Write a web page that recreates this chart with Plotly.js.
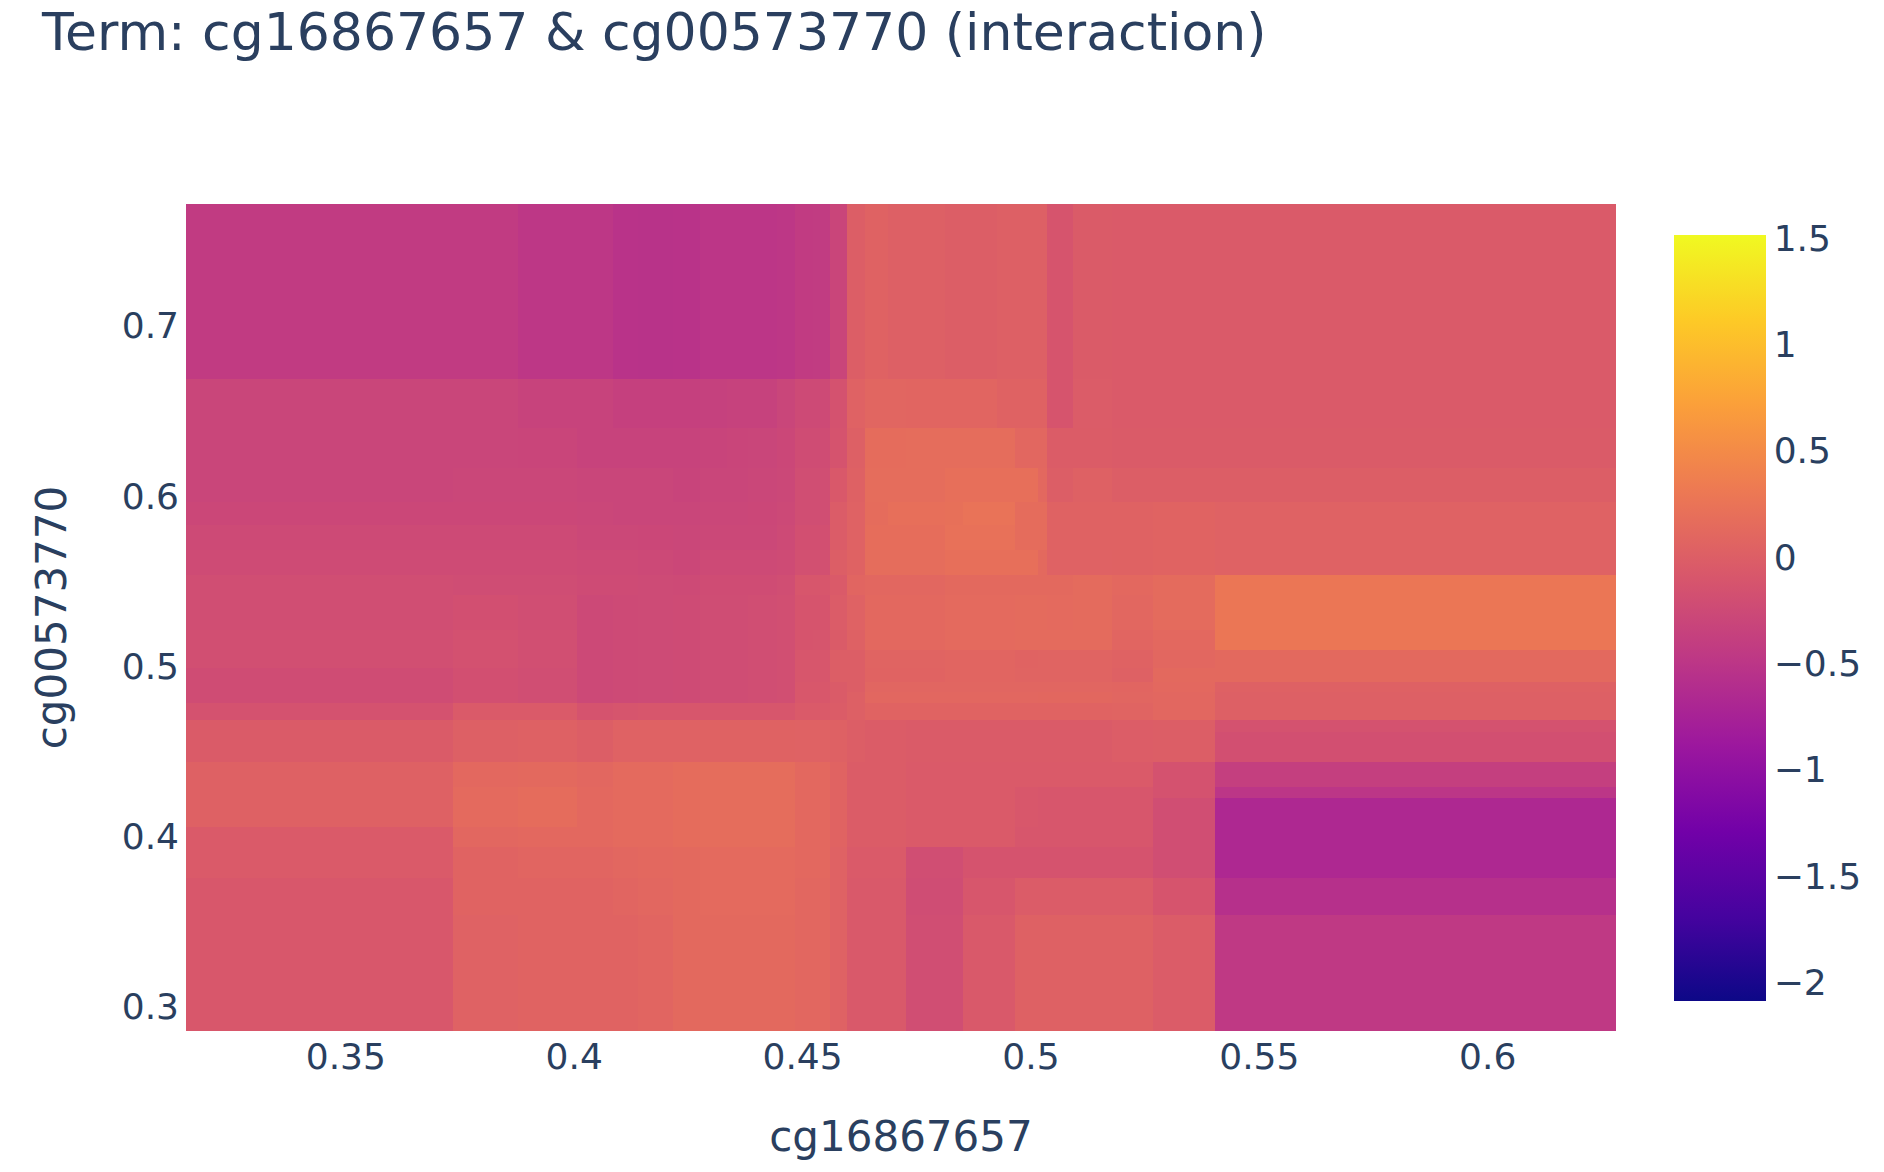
<!DOCTYPE html>
<html>
<head>
<meta charset="utf-8">
<script src="https://cdn.plot.ly/plotly-3.0.1.min.js"></script>
<style>html,body{margin:0;padding:0;background:#fff;}#chart{width:1884px;height:1172px;}</style>
</head>
<body>
<div id="chart"></div>
<script>
// Bin edges of cg16867657 (x) — left to right
const xEdges = [0.3150, 0.3734, 0.3876, 0.4006, 0.4085, 0.4139, 0.4216, 0.4275, 0.4334, 0.4381,
  0.4443, 0.4483, 0.4523, 0.4560, 0.4598, 0.4637, 0.4687, 0.4727, 0.4812, 0.4851,
  0.4925, 0.4965, 0.5016, 0.5035, 0.5092, 0.5177, 0.5267, 0.5403, 0.6281];

// Bin edges of cg00573770 (y) — listed top (high) to bottom (low)
const yEdgesTopDown = [0.7714, 0.6686, 0.6399, 0.6164, 0.5964, 0.5829, 0.5682, 0.5536, 0.5418,
  0.5213, 0.5095, 0.4989, 0.4907, 0.4849, 0.4784, 0.4684, 0.4614, 0.4437, 0.4291,
  0.4226, 0.4056, 0.3938, 0.3756, 0.3539, 0.2858];

// Interaction score per cell, rows listed top to bottom, columns left to right
const zTopDown = [
  [-0.43,-0.43,-0.48,-0.48,-0.53,-0.54,-0.53,-0.50,-0.50,-0.50,-0.48,-0.43,-0.42,-0.31, 0.00, 0.05, 0.02, 0.02, 0.00, 0.00, 0.02, 0.02, 0.02,-0.12,-0.04,-0.05,-0.05,-0.05],
  [-0.30,-0.30,-0.34,-0.34,-0.37,-0.37,-0.37,-0.36,-0.35,-0.35,-0.30,-0.25,-0.25,-0.15, 0.04, 0.09, 0.09, 0.08, 0.08, 0.08, 0.05, 0.05, 0.05,-0.12,-0.03,-0.05,-0.05,-0.05],
  [-0.30,-0.30,-0.31,-0.33,-0.33,-0.33,-0.34,-0.32,-0.31,-0.30,-0.28,-0.22,-0.22,-0.13, 0.02, 0.16, 0.16, 0.17, 0.17, 0.17, 0.17, 0.10, 0.10,-0.02,-0.02,-0.04,-0.04,-0.04],
  [-0.30,-0.29,-0.29,-0.30,-0.30,-0.30,-0.32,-0.30,-0.30,-0.29,-0.27,-0.20,-0.20,-0.07, 0.03, 0.17, 0.17, 0.17, 0.20, 0.20, 0.20, 0.20, 0.12, 0.00, 0.03, 0.00, 0.00, 0.00],
  [-0.28,-0.28,-0.28,-0.29,-0.30,-0.30,-0.30,-0.29,-0.29,-0.28,-0.26,-0.20,-0.20,-0.03, 0.04, 0.16, 0.20, 0.20, 0.21, 0.24, 0.24, 0.16, 0.16, 0.05, 0.05, 0.05, 0.06, 0.04],
  [-0.25,-0.25,-0.25,-0.27,-0.27,-0.28,-0.29,-0.27,-0.27,-0.27,-0.25,-0.18,-0.18,-0.03, 0.04, 0.18, 0.18, 0.18, 0.22, 0.22, 0.22, 0.16, 0.16, 0.05, 0.05, 0.05, 0.06, 0.04],
  [-0.23,-0.23,-0.23,-0.25,-0.25,-0.26,-0.28,-0.25,-0.25,-0.25,-0.23,-0.17,-0.17, 0.00, 0.05, 0.17, 0.17, 0.17, 0.20, 0.20, 0.20, 0.20, 0.13, 0.04, 0.04, 0.05, 0.06, 0.04],
  [-0.20,-0.21,-0.21,-0.23,-0.23,-0.24,-0.25,-0.22,-0.22,-0.22,-0.20,-0.10,-0.10,-0.05, 0.08, 0.10, 0.10, 0.10, 0.13, 0.13, 0.13, 0.13, 0.13, 0.13, 0.15, 0.12, 0.15, 0.28],
  [-0.20,-0.18,-0.20,-0.26,-0.25,-0.24,-0.23,-0.21,-0.21,-0.20,-0.19,-0.12,-0.12,-0.03, 0.04, 0.12, 0.12, 0.12, 0.14, 0.14, 0.14, 0.15, 0.15, 0.14, 0.15, 0.10, 0.15, 0.28],
  [-0.19,-0.16,-0.19,-0.26,-0.25,-0.24,-0.23,-0.21,-0.21,-0.20,-0.19,-0.12,-0.11,-0.04, 0.03, 0.12, 0.12, 0.12, 0.14, 0.14, 0.14, 0.15, 0.15, 0.15, 0.15, 0.08, 0.12, 0.28],
  [-0.19,-0.16,-0.19,-0.26,-0.25,-0.24,-0.23,-0.21,-0.21,-0.20,-0.19,-0.10,-0.10, 0.00, 0.00, 0.07, 0.07, 0.07, 0.08, 0.08, 0.08, 0.06, 0.07, 0.07, 0.07, 0.05, 0.10, 0.13],
  [-0.22,-0.18,-0.20,-0.26,-0.25,-0.24,-0.23,-0.21,-0.21,-0.20,-0.19,-0.10,-0.10, 0.00, 0.00, 0.06, 0.06, 0.06, 0.08, 0.08, 0.08, 0.07, 0.07, 0.07, 0.07, 0.03, 0.13, 0.13],
  [-0.22,-0.18,-0.20,-0.26,-0.25,-0.24,-0.23,-0.21,-0.21,-0.20,-0.19,-0.08,-0.08,-0.04, 0.00, 0.09, 0.09, 0.09, 0.09, 0.09, 0.09, 0.09, 0.09, 0.09, 0.09, 0.08, 0.12, 0.03],
  [-0.22,-0.18,-0.20,-0.26,-0.25,-0.24,-0.23,-0.21,-0.21,-0.20,-0.19,-0.08,-0.08,-0.04, 0.02, 0.10, 0.10, 0.10, 0.10, 0.10, 0.10, 0.10, 0.11, 0.11, 0.11, 0.09, 0.10, 0.02],
  [-0.15,-0.05,-0.05,-0.13,-0.11,-0.10,-0.10,-0.10,-0.10,-0.10,-0.10,-0.05,-0.05,-0.02, 0.02, 0.06, 0.06, 0.06, 0.06, 0.06, 0.06, 0.06, 0.06, 0.06, 0.06, 0.07, 0.10, 0.02],
  [-0.04, 0.02, 0.03, 0.00, 0.04, 0.04, 0.04, 0.05, 0.05, 0.05, 0.05, 0.04, 0.04, 0.03, 0.00,-0.02,-0.02,-0.04,-0.04,-0.04,-0.04,-0.04,-0.04,-0.04,-0.04,-0.01, 0.00,-0.15],
  [-0.04, 0.02, 0.03, 0.00, 0.04, 0.04, 0.04, 0.05, 0.05, 0.05, 0.05, 0.04, 0.04, 0.03, 0.00,-0.02,-0.02,-0.04,-0.04,-0.04,-0.04,-0.04,-0.04,-0.04,-0.04,-0.01, 0.00,-0.18],
  [ 0.03, 0.12, 0.13, 0.10, 0.14, 0.14, 0.16, 0.17, 0.17, 0.17, 0.17, 0.12, 0.12, 0.06,-0.02,-0.02,-0.02,-0.05,-0.05,-0.05,-0.05,-0.05,-0.05,-0.05,-0.05,-0.05,-0.15,-0.38],
  [ 0.03, 0.14, 0.16, 0.12, 0.14, 0.14, 0.16, 0.17, 0.17, 0.17, 0.17, 0.12, 0.12, 0.06,-0.02,-0.02,-0.02,-0.05,-0.05,-0.05,-0.05,-0.08,-0.10,-0.10,-0.10,-0.10,-0.15,-0.50],
  [ 0.03, 0.14, 0.16, 0.12, 0.14, 0.14, 0.16, 0.17, 0.17, 0.17, 0.17, 0.12, 0.12, 0.06,-0.02,-0.02,-0.02,-0.05,-0.05,-0.05,-0.05,-0.08,-0.10,-0.10,-0.10,-0.10,-0.20,-0.67],
  [-0.05, 0.10, 0.12, 0.12, 0.14, 0.14, 0.16, 0.17, 0.17, 0.17, 0.17, 0.12, 0.12, 0.06,-0.02,-0.02,-0.02,-0.05,-0.05,-0.05,-0.05,-0.10,-0.10,-0.10,-0.10,-0.10,-0.20,-0.67],
  [-0.05, 0.06, 0.08, 0.08, 0.10, 0.12, 0.13, 0.14, 0.14, 0.14, 0.14, 0.12, 0.12, 0.04,-0.05,-0.05,-0.05,-0.20,-0.20,-0.13,-0.13,-0.13,-0.13,-0.13,-0.13,-0.13,-0.20,-0.67],
  [-0.08, 0.06, 0.06, 0.06, 0.08, 0.10, 0.13, 0.14, 0.14, 0.14, 0.14, 0.10, 0.10, 0.04,-0.06,-0.06,-0.06,-0.21,-0.21,-0.10,-0.10,-0.03,-0.03,-0.03,-0.03,-0.03,-0.12,-0.57],
  [-0.08, 0.04, 0.06, 0.06, 0.06, 0.08, 0.13, 0.13, 0.13, 0.13, 0.13, 0.10, 0.10, 0.04,-0.06,-0.06,-0.06,-0.20,-0.20,-0.06,-0.06, 0.03, 0.03, 0.03, 0.03, 0.03,-0.03,-0.46]
];

const zMin = -2.085;
const zMax = 1.517;
const plasmaColors = ['#0d0887', '#46039f', '#7201a8', '#9c179e', '#bd3786',
  '#d8576b', '#ed7953', '#fb9f3a', '#fdca26', '#f0f921'];
const xTickVals = [0.35, 0.4, 0.45, 0.5, 0.55, 0.6];
const yTickVals = [0.3, 0.4, 0.5, 0.6, 0.7];
const cbTickVals = [-2, -1.5, -1, -0.5, 0, 0.5, 1, 1.5];

const titleText = 'Term: cg16867657 &amp; cg00573770 (interaction)';
const xTitle = 'cg16867657';
const yTitle = 'cg00573770';

const yEdges = yEdgesTopDown.slice().reverse();
const zValues = zTopDown.slice().reverse();
const plasmaScale = plasmaColors.map((c, i) => [i / (plasmaColors.length - 1), c]);

const FONT = 'DejaVu Sans, Verdana, sans-serif';
const INK = '#2a3f5f';

const trace = {
  type: 'heatmap',
  x: xEdges,
  y: yEdges,
  z: zValues,
  zmin: zMin,
  zmax: zMax,
  colorscale: plasmaScale,
  zsmooth: false,
  hoverinfo: 'skip',
  colorbar: {
    thickness: 92,
    thicknessmode: 'pixels',
    len: 766,
    lenmode: 'pixels',
    x: 1.0406,
    xanchor: 'left',
    xpad: 0,
    y: 0.5,
    yanchor: 'middle',
    ypad: 0,
    outlinewidth: 0,
    ticks: '',
    tickvals: cbTickVals,
    tickfont: {family: FONT, size: 36, color: INK}
  }
};

const layout = {
  width: 1884,
  height: 1172,
  paper_bgcolor: '#ffffff',
  plot_bgcolor: '#E5ECF6',
  font: {family: FONT, color: INK, size: 36},
  margin: {l: 186, r: 268, t: 204, b: 141, pad: 0},
  title: {
    text: titleText,
    font: {family: FONT, size: 52, color: INK},
    x: 42 / 1884,
    xanchor: 'left',
    xref: 'container',
    y: 1 - 32 / 1172,
    yanchor: 'middle',
    yref: 'container'
  },
  xaxis: {
    range: [xEdges[0], xEdges[xEdges.length - 1]],
    tickvals: xTickVals,
    ticktext: xTickVals.map(String),
    ticks: '',
    showgrid: false,
    zeroline: false,
    showline: false,
    tickfont: {family: FONT, size: 36, color: INK},
    ticklabelstandoff: 1,
    title: {text: xTitle, font: {family: FONT, size: 42, color: INK}, standoff: 45}
  },
  yaxis: {
    range: [yEdges[0], yEdges[yEdges.length - 1]],
    tickvals: yTickVals,
    ticktext: yTickVals.map(String),
    ticks: '',
    showgrid: false,
    zeroline: false,
    showline: false,
    tickfont: {family: FONT, size: 36, color: INK},
    ticklabelstandoff: 6,
    title: {text: yTitle, font: {family: FONT, size: 42, color: INK}, standoff: 42}
  }
};

Plotly.newPlot('chart', [trace], layout, {displayModeBar: false, staticPlot: true});
</script>
</body>
</html>
